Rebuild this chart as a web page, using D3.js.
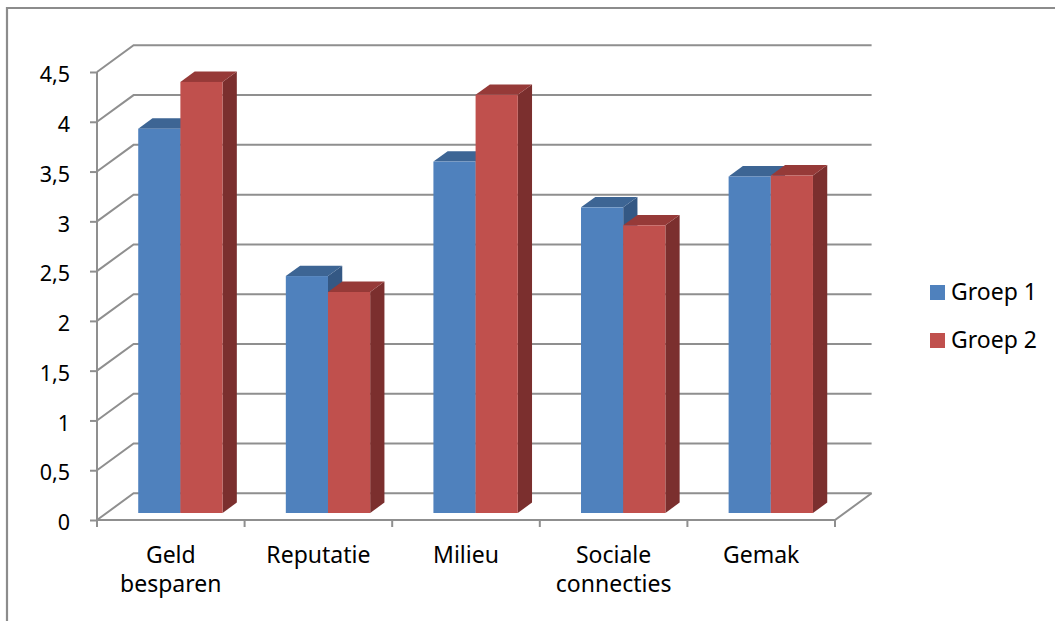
<!DOCTYPE html>
<html>
<head>
<meta charset="utf-8">
<script src="https://cdn.jsdelivr.net/npm/d3@7"></script>
<style>
  html, body { margin: 0; padding: 0; background: #ffffff; }
  svg { display: block; }
  text { font-family: "Noto Sans", "Open Sans", sans-serif; fill: #000; }
</style>
</head>
<body>
<svg id="chart" width="1055" height="621"></svg>
<script>
// Survey scores per motive, two groups
const categories = ["Geld besparen", "Reputatie", "Milieu", "Sociale connecties", "Gemak"];
const categoryLines = [["Geld", "besparen"], ["Reputatie"], ["Milieu"], ["Sociale", "connecties"], ["Gemak"]];
const seriesNames = ["Groep 1", "Groep 2"];
const groep1 = [3.86, 2.38, 3.53, 3.07, 3.38];
const groep2 = [4.33, 2.22, 4.20, 2.89, 3.39];
const yTicks = [0, 0.5, 1, 1.5, 2, 2.5, 3, 3.5, 4, 4.5];
const yTickLabels = ["0", "0,5", "1", "1,5", "2", "2,5", "3", "3,5", "4", "4,5"];

const seriesValues = [groep1, groep2];
const faceColors = {
  "Groep 1": { front: "#4f81bd", top: "#3d6594", side: "#345884" },
  "Groep 2": { front: "#c0504d", top: "#963a38", side: "#7b2f2e" }
};

const svg = d3.select("#chart");

// Chart frame
svg.append("path")
  .attr("d", "M7,640 L7,8 L1070,8")
  .attr("fill", "none").attr("stroke", "#8c8c8c").attr("stroke-width", 2.2);

// 3D projection: front plane origin plus a depth vector
const originX = 97;
const plotWidth = 738;
const depthX = 36.6, depthY = 26.7;
const barT0 = 0.262, barT1 = 0.652;

const x = d3.scaleBand().domain(categories).range([0, plotWidth])
  .paddingInner(1.5 / 3.5).paddingOuter(0.75 / 3.5);
const step = plotWidth / categories.length;
const xSub = d3.scaleBand().domain(seriesNames).range([0, x.bandwidth()]);
const y = d3.scaleLinear().domain([0, 4.5]).range([520, 72]);

const P = (px, v, t) => [originX + px + t * depthX, y(v) - t * depthY];
const line = d3.line();

const gridColor = "#8f8f8f";
const grid = svg.append("g").attr("fill", "none").attr("stroke", gridColor).attr("stroke-width", 2);

// Left wall diagonals and back wall gridlines
yTicks.forEach(v => {
  grid.append("path").attr("d", line([P(0, v, 0), P(0, v, 1), P(plotWidth, v, 1)]));
});
// Floor front and right edges
grid.append("path").attr("d", line([P(0, 0, 0), P(plotWidth, 0, 0), P(plotWidth, 0, 1)]));

// Value axis line and ticks
const yAxisG = svg.append("g")
  .attr("transform", `translate(${originX},0)`)
  .call(d3.axisLeft(y).tickValues(yTicks).tickSize(7).tickPadding(20)
    .tickFormat((d, i) => yTickLabels[i]));
yAxisG.select(".domain").remove();
yAxisG.append("line").attr("x1", 0).attr("x2", 0).attr("y1", y(0)).attr("y2", y(4.5));
yAxisG.selectAll("line").attr("stroke", gridColor).attr("stroke-width", 2);
yAxisG.selectAll("text")
  .attr("font-size", 21.5).attr("font-family", "'Noto Sans', sans-serif")
  .attr("fill", "#000").attr("dy", "0.45em");

// Category axis ticks
const catTicks = d3.range(categories.length + 1).map(i => i * step);
svg.append("g").selectAll("line").data(catTicks).join("line")
  .attr("x1", d => originX + d).attr("x2", d => originX + d)
  .attr("y1", y(0)).attr("y2", y(0) + 7)
  .attr("stroke", gridColor).attr("stroke-width", 2);

// Category labels
const catG = svg.append("g").attr("font-size", 23).attr("text-anchor", "middle");
categories.forEach((c, i) => {
  const cx = originX + i * step + step / 2;
  const t = catG.append("text").attr("x", cx).attr("y", 563);
  categoryLines[i].forEach((ln, j) => {
    t.append("tspan").attr("x", cx).attr("dy", j === 0 ? 0 : 29).text(ln);
  });
});

// Bars: front, top and side faces
const bars = svg.append("g");
categories.forEach((c, i) => {
  seriesNames.forEach((s, k) => {
    const v = seriesValues[k][i];
    const x0 = x(c) + xSub(s);
    const x1 = x0 + xSub.bandwidth();
    const col = faceColors[s];
    const g = bars.append("g");
    g.append("path")
      .attr("d", line([P(x1, 0, barT0), P(x1, v, barT0), P(x1, v, barT1), P(x1, 0, barT1)]) + "Z")
      .attr("fill", col.side);
    g.append("path")
      .attr("d", line([P(x0, v, barT0), P(x1, v, barT0), P(x1, v, barT1), P(x0, v, barT1)]) + "Z")
      .attr("fill", col.top);
    const a = P(x0, v, barT0), b = P(x1, 0, barT0);
    g.append("rect")
      .attr("x", a[0]).attr("y", a[1])
      .attr("width", b[0] - a[0]).attr("height", b[1] - a[1])
      .attr("fill", col.front);
  });
});

// Legend
const legend = svg.append("g").attr("font-size", 23);
seriesNames.forEach((s, k) => {
  const ly = 285 + k * 48;
  legend.append("rect").attr("x", 930).attr("y", ly).attr("width", 15).attr("height", 15)
    .attr("fill", faceColors[s].front);
  legend.append("text").attr("x", 951).attr("y", ly + 15).text(s);
});
</script>
</body>
</html>
